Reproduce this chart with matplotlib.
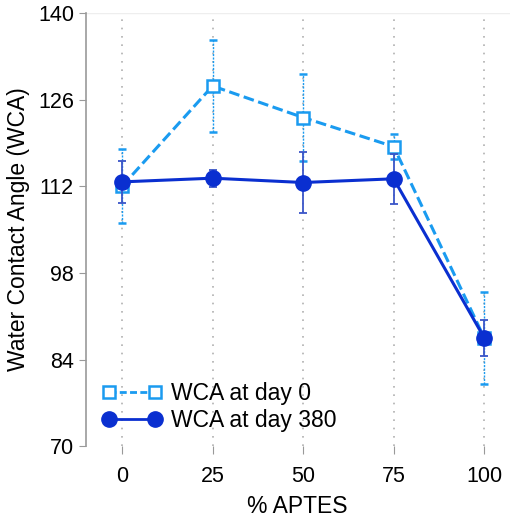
import numpy as np
import matplotlib
matplotlib.use("Agg")
from matplotlib import pyplot as plt
from matplotlib.lines import Line2D

plt.rcParams['font.family'] = ['Liberation Sans', 'DejaVu Sans']

# data
aptes = [0, 25, 50, 75, 100]
wca_day0 = [112.0, 128.2, 123.1, 118.4, 87.5]
err_day0 = [6.0, 7.4, 7.0, 2.0, 7.4]
wca_day380 = [112.7, 113.3, 112.6, 113.2, 87.5]
err_day380 = [3.4, 1.4, 5.0, 4.0, 2.9]
yticks = [70, 84, 98, 112, 126, 140]

light = '#1a9bf0'
dark = '#0a2fd0'

fig = plt.figure(figsize=(5.2, 5.17), dpi=100)
ax = fig.add_axes([0.165, 0.137, 0.815, 0.838])

# vertical dotted grid
for xv in aptes:
    ax.axvline(xv, color='#b0b0b0', ls=(0, (1, 4)), lw=1.2, zorder=0)

eb0 = ax.errorbar(aptes, wca_day0, yerr=err_day0, color=light, ls=(0, (3.5, 1.5)), lw=2.2,
                  marker='s', ms=9, mfc='white', mec=light, mew=1.8,
                  ecolor=light, elinewidth=1.0, capsize=3, capthick=1.0, zorder=3)
eb0[2][0].set_linestyle((0, (1.5, 1)))

eb1 = ax.errorbar(aptes, wca_day380, yerr=err_day380, color=dark, ls='-', lw=2.2,
                  marker='o', ms=11, mfc=dark, mec=dark,
                  ecolor='#3a55c8', elinewidth=1.3, capsize=3, capthick=1.3, zorder=4)

ax.set_xlim(-10, 107)
ax.set_ylim(70, 140)
ax.set_yticks(yticks)
ax.set_xticks(aptes)
ax.tick_params(axis='both', labelsize=15.5, colors='#999999', labelcolor='black', length=5)
ax.tick_params(axis='x', length=6, pad=8)

for s in ['top', 'right', 'bottom']:
    ax.spines[s].set_visible(False)
ax.spines['left'].set_color('#999999')
ax.spines['left'].set_linewidth(1.2)
ax.axhline(140, color='#eeeeee', lw=1, zorder=0)

ax.set_xlabel('% APTES', fontsize=16.5, labelpad=6)
ax.set_ylabel('Water Contact Angle (WCA)', fontsize=16.5, labelpad=6)

h0 = Line2D([], [], color=light, ls=(0, (2.5, 1.2)), lw=2.0, marker='s', ms=9,
            mfc='white', mec=light, mew=1.8)
h1 = Line2D([], [], color=dark, ls='-', lw=2.0, marker='o', ms=11, mfc=dark, mec=dark)
leg = ax.legend([h0, h1], ['WCA at day 0', 'WCA at day 380'], loc='lower left',
                bbox_to_anchor=(0.0, -0.005), frameon=False, fontsize=16.5,
                numpoints=2, handlelength=2.6, handletextpad=0.4, labelspacing=0.2,
                borderaxespad=0.3)

fig.savefig('out.png', dpi=100)
